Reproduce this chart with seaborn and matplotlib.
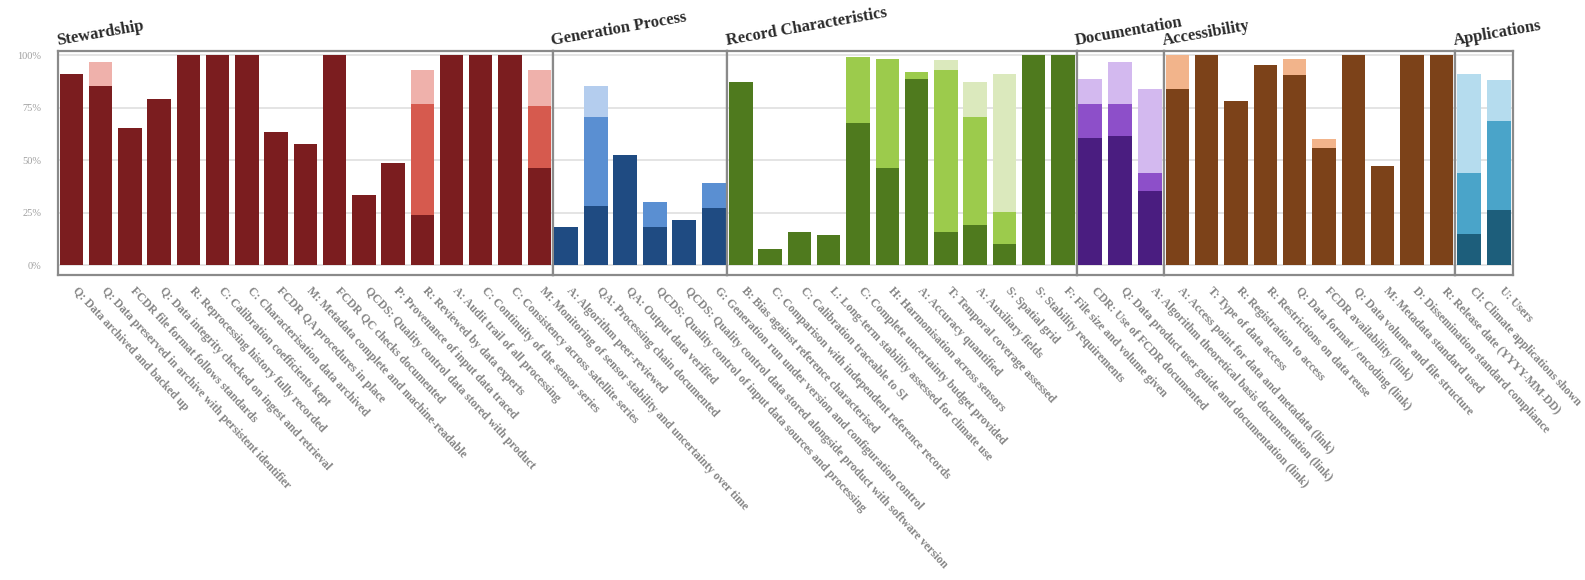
import matplotlib
matplotlib.use("Agg")
import matplotlib.pyplot as plt
import matplotlib.transforms as mtransforms
import pandas as pd
import seaborn as sns

# ---------------------------------------------------------------------------
# Maturity scores per criterion (cumulative shares reached by each tier)
# ---------------------------------------------------------------------------
group_names = ["Stewardship", "Generation Process", "Record Characteristics",
               "Documentation", "Accessibility", "Applications"]

stewardship_labels = [
    "Q: Data archived and backed up",
    "Q: Data preserved in archive with persistent identifier",
    "FCDR file format follows standards",
    "Q: Data integrity checked on ingest and retrieval",
    "R: Reprocessing history fully recorded",
    "C: Calibration coefficients kept",
    "C: Characterisation data archived",
    "FCDR QA procedures in place",
    "M: Metadata complete and machine-readable",
    "FCDR QC checks documented",
    "QCDS: Quality control data stored with product",
    "P: Provenance of input data traced",
    "R: Reviewed by data experts",
    "A: Audit trail of all processing",
    "C: Continuity of the sensor series",
    "C: Consistency across satellite series",
    "M: Monitoring of sensor stability and uncertainty over time",
]
stewardship_dark = [0.91, 0.856, 0.656, 0.79, 1.0, 1.0, 1.0, 0.635, 0.576, 1.0,
                    0.336, 0.488, 0.24, 1.0, 1.0, 1.0, 0.464]
stewardship_mid = [0.91, 0.856, 0.656, 0.79, 1.0, 1.0, 1.0, 0.635, 0.576, 1.0,
                   0.336, 0.488, 0.77, 1.0, 1.0, 1.0, 0.76]
stewardship_light = [0.91, 0.968, 0.656, 0.79, 1.0, 1.0, 1.0, 0.635, 0.576, 1.0,
                     0.336, 0.488, 0.93, 1.0, 1.0, 1.0, 0.93]

generation_labels = [
    "A: Algorithm peer-reviewed",
    "QA: Processing chain documented",
    "QA: Output data verified",
    "QCDS: Quality control of input data sources and processing",
    "QCDS: Quality control data stored alongside product with software version",
    "G: Generation run under version and configuration control",
]
generation_dark = [0.184, 0.285, 0.525, 0.184, 0.216, 0.272]
generation_mid = [0.184, 0.704, 0.525, 0.304, 0.216, 0.392]
generation_light = [0.184, 0.856, 0.525, 0.304, 0.216, 0.392]

record_labels = [
    "B: Bias against reference characterised",
    "C: Comparison with independent reference records",
    "C: Calibration traceable to SI",
    "L: Long-term stability assessed for climate use",
    "C: Complete uncertainty budget provided",
    "H: Harmonisation across sensors",
    "A: Accuracy quantified",
    "T: Temporal coverage assessed",
    "A: Auxiliary fields",
    "S: Spatial grid",
    "S: Stability requirements",
    "F: File size and volume given",
]
record_dark = [0.872, 0.08, 0.16, 0.144, 0.68, 0.464, 0.888, 0.16, 0.192, 0.104, 1.0, 1.0]
record_mid = [0.872, 0.08, 0.16, 0.144, 0.99, 0.984, 0.92, 0.93, 0.704, 0.256, 1.0, 1.0]
record_light = [0.872, 0.08, 0.16, 0.144, 0.99, 0.984, 0.92, 0.976, 0.872, 0.912, 1.0, 1.0]

documentation_labels = [
    "CDR: Use of FCDR documented",
    "Q: Data product user guide and documentation (link)",
    "A: Algorithm theoretical basis documentation (link)",
]
documentation_dark = [0.608, 0.616, 0.352]
documentation_mid = [0.768, 0.768, 0.44]
documentation_light = [0.888, 0.968, 0.84]

accessibility_labels = [
    "A: Access point for data and metadata (link)",
    "T: Type of data access",
    "R: Registration to access",
    "R: Restrictions on data reuse",
    "Q: Data format / encoding (link)",
    "FCDR availability (link)",
    "Q: Data volume and file structure",
    "M: Metadata standard used",
    "D: Dissemination standard compliance",
    "R: Release date (YYYY-MM-DD)",
]
accessibility_dark = [0.84, 1.0, 0.784, 0.952, 0.904, 0.56, 1.0, 0.472, 1.0, 1.0]
accessibility_mid = [0.84, 1.0, 0.784, 0.952, 0.904, 0.56, 1.0, 0.472, 1.0, 1.0]
accessibility_light = [1.0, 1.0, 0.784, 0.952, 0.984, 0.60, 1.0, 0.472, 1.0, 1.0]

applications_labels = [
    "Cl: Climate applications shown",
    "U: Users",
]
applications_dark = [0.152, 0.264]
applications_mid = [0.44, 0.688]
applications_light = [0.912, 0.88]

y_ticks = [0.0, 0.25, 0.5, 0.75, 1.0]
y_tick_labels = ["0%", "25%", "50%", "75%", "100%"]

# tier colours per group: (dark, mid, light)
group_colors = [
    ("#7b1d1f", "#d65a4e", "#efb1ab"),
    ("#1f4b82", "#5a8fd2", "#b4cdee"),
    ("#4f7a1e", "#9ccb4c", "#dbe9bd"),
    ("#4a1d80", "#8d4fc9", "#d3b9ef"),
    ("#7c4219", "#7c4219", "#f2b48b"),
    ("#1d5e7b", "#4aa4c9", "#b5dcee"),
]

groups = [
    (stewardship_labels, stewardship_dark, stewardship_mid, stewardship_light),
    (generation_labels, generation_dark, generation_mid, generation_light),
    (record_labels, record_dark, record_mid, record_light),
    (documentation_labels, documentation_dark, documentation_mid, documentation_light),
    (accessibility_labels, accessibility_dark, accessibility_mid, accessibility_light),
    (applications_labels, applications_dark, applications_mid, applications_light),
]

sns.set_theme(style="white")
plt.rcParams["font.family"] = ["Liberation Serif", "DejaVu Serif"]

fig = plt.figure(figsize=(15.85, 5.80), dpi=100)
gs = fig.add_gridspec(1, len(groups), width_ratios=[len(g[0]) for g in groups],
                      left=0.0366, right=0.9546, top=0.912, bottom=0.526, wspace=0)

label_shift = mtransforms.ScaledTranslation(5 / 72, 0, fig.dpi_scale_trans)

for gi, (name, (labels, dark, mid, light), cols) in enumerate(zip(group_names, groups, group_colors)):
    ax = fig.add_subplot(gs[0, gi])
    df = pd.DataFrame({"item": labels, "dark": dark, "mid": mid, "light": light})
    for col, c in (("light", cols[2]), ("mid", cols[1]), ("dark", cols[0])):
        sns.barplot(data=df, x="item", y=col, order=labels, color=c, saturation=1,
                    width=0.8, errorbar=None, ax=ax, zorder=3, linewidth=0)
    n = len(labels)
    ax.set_xlim(-0.46, n - 0.54)
    ax.set_ylim(-0.045, 1.02)
    ax.set_xlabel("")
    ax.set_ylabel("")

    ax.set_yticks(y_ticks)
    ax.yaxis.grid(True, color="#e2e2e2", linewidth=1.3, zorder=0)
    ax.set_axisbelow(True)
    if gi == 0:
        ax.set_yticklabels(y_tick_labels, fontsize=7.5, color="#a0a0a0")
        ax.tick_params(axis="y", length=0, pad=12)
    else:
        ax.tick_params(axis="y", left=False, labelleft=False)

    ax.set_xticks(range(n))
    ax.set_xticklabels(labels, rotation=-47, ha="left", va="top",
                       rotation_mode="anchor", fontsize=8.5, fontweight="bold",
                       color="#858585")
    ax.tick_params(axis="x", length=0, pad=7)
    for t in ax.get_xticklabels():
        t.set_transform(t.get_transform() + label_shift)

    for sp in ax.spines.values():
        sp.set_visible(True)
        sp.set_color("#8a8a8a")
        sp.set_linewidth(1.6)

    ax.text(0.0, 1.008, name, transform=ax.transAxes, rotation=10,
            rotation_mode="anchor", ha="left", va="bottom",
            fontsize=12, fontweight="bold", color="#2a2a2a")

fig.savefig("out.png", dpi=100, facecolor="white")
